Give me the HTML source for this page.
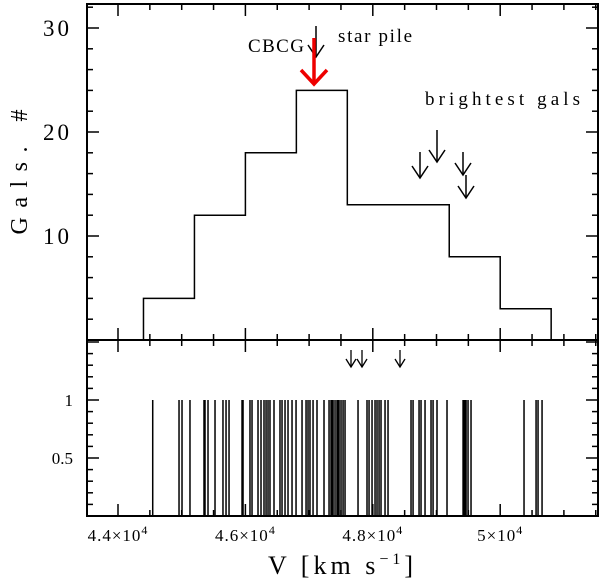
<!DOCTYPE html>
<html><head><meta charset="utf-8"><style>
body{margin:0;background:#fff}
svg text{font-family:"Liberation Serif",serif;fill:#000}
</style></head><body>
<svg id="c" width="600" height="583" xmlns="http://www.w3.org/2000/svg"></svg>
<script>
const binEdges=[44400,45200,46000,46800,47600,48400,49200,50000,50800];
const binCounts=[4,12,18,24,13,13,8,3];
const galVel=[44545,44958,45005,45130,45350,45366,45413,45523,45648,45696,45743,45947,45963,46072,46104,46198,46245,46292,46324,46355,46386,46449,46543,46575,46622,46669,46732,46795,46889,46952,46983,47014,47062,47124,47234,47313,47344,47360,47376,47407,47438,47454,47470,47501,47533,47564,47768,47909,47941,47988,48035,48066,48098,48129,48192,48239,48600,48632,48726,48757,48820,48914,48946,49008,49165,49417,49432,49448,49464,49495,49542,50374,50563,50594,50657];
const xTickVals=[44000,46000,48000,50000];
const xTickLabels=["4.4","4.6","4.8","5"];
const yTopTicks=[10,20,30];
const yBotTicks=[0.5,1];
const L=87,R=598,T=4,M=340,B=516;
const x=v=>118+(v-44000)*0.0637;
const yT=n=>M-n*10.4;
const yB=n=>B-n*116;
const svg=document.getElementById('c');
const NS='http://www.w3.org/2000/svg';
function mk(tag,a,txt){const e=document.createElementNS(NS,tag);for(const k in a)e.setAttribute(k,a[k]);if(txt!==undefined)e.textContent=txt;svg.appendChild(e);return e;}
function line(x1,y1,x2,y2,name,col,w){const e=mk('line',{x1,y1,x2,y2,stroke:col||'#000','stroke-width':w||1.5});

return e;}
let f=mk('rect',{x:L,y:T,width:R-L,height:B-T,fill:'none',stroke:'#000','stroke-width':2});


line(L,M,R,M,'panel-divider','#000',2);
for(let v=43500;v<=51500;v+=500){const xx=x(v);if(xx<L||xx>R)continue;const maj=v%2000===0;const len=maj?12:6;
line(xx,B,xx,B-len,'x-tick');line(xx,M,xx,M+len,'x-tick');line(xx,M,xx,M-len,'x-tick');line(xx,T,xx,T+len,'x-tick');}
xTickVals.forEach((v,i)=>{
const t=mk('text',{x:x(v),y:541,'text-anchor':'middle','font-size':17,'letter-spacing':1});


t.innerHTML=xTickLabels[i]+'×10<tspan dy="-7" font-size="12">4</tspan>';});
for(let n=2;n<=32;n+=2){const yy=yT(n);const len=n%10===0?12:6;line(L,yy,L+len,yy,'y-tick');line(R,yy,R-len,yy,'y-tick');}
yTopTicks.forEach(n=>{const t=mk('text',{x:72,y:yT(n)+8,'text-anchor':'end','font-size':23,'letter-spacing':3},n);

});
for(let i=1;i<=15;i++){const n=i/10;const yy=yB(n);const len=i%5===0?12:6;line(L,yy,L+len,yy,'y-tick');line(R,yy,R-len,yy,'y-tick');}
yBotTicks.forEach(n=>{const t=mk('text',{x:73,y:yB(n)+6,'text-anchor':'end','font-size':17},n);

});
let d='M'+x(binEdges[0])+','+M;
binCounts.forEach((c,i)=>{d+=' L'+x(binEdges[i])+','+yT(c)+' L'+x(binEdges[i+1])+','+yT(c);});
d+=' L'+x(binEdges[binEdges.length-1])+','+M;
const h=mk('path',{d,fill:'none',stroke:'#000','stroke-width':1.5});


galVel.forEach(v=>{line(x(v),B,x(v),yB(1),'galaxy-velocity-line','#000',1.5);});
function arrow(ax,y1,y2,col,w,hw,hh,name){line(ax,y1,ax,y2,name,col,w);
const p=mk('polyline',{points:`${ax-hw},${y2-hh} ${ax},${y2} ${ax+hw},${y2-hh}`,fill:'none',stroke:col,'stroke-width':w});

}
arrow(316,26,57,'#000',1.5,8,12,'star-pile-arrow');
arrow(314,38,84,'#e00',3.5,13,14,'cbcg-arrow');
arrow(437,130,162,'#000',1.5,8,12,'bright-gal-arrow');
arrow(420,152,178,'#000',1.5,8,12,'bright-gal-arrow');
arrow(463,152,175,'#000',1.5,8,12,'bright-gal-arrow');
arrow(466,175,198,'#000',1.5,8,12,'bright-gal-arrow');
arrow(351,350,367,'#000',1.3,5,8,'small-arrow');
arrow(362,350,367,'#000',1.3,5,8,'small-arrow');
arrow(400,350,367,'#000',1.3,5,8,'small-arrow');
function label(tx,ty,s,fs,name,anchor,extra){const t=mk('text',Object.assign({x:tx,y:ty,'font-size':fs,'text-anchor':anchor||'start'},extra||{}),s);

return t;}
label(248,52,'CBCG',19,'cbcg-label','start',{textLength:56,lengthAdjust:'spacing'});
label(338,42,'star pile',19,'star-pile-label','start',{textLength:74,lengthAdjust:'spacing'});
label(425,105,'brightest gals',19,'brightest-gals-label','start',{textLength:155,lengthAdjust:'spacing'});
label(268,574,'V [km s',26,'x-axis-title','start',{'letter-spacing':4}).innerHTML='V [km s<tspan dy="-10" font-size="16">−1</tspan><tspan dy="10">]</tspan>';
label(27,172,'Gals. #',24,'y-axis-title','middle',{transform:'rotate(-90 27 172)',textLength:125,lengthAdjust:'spacing'});
</script>
</body></html>
